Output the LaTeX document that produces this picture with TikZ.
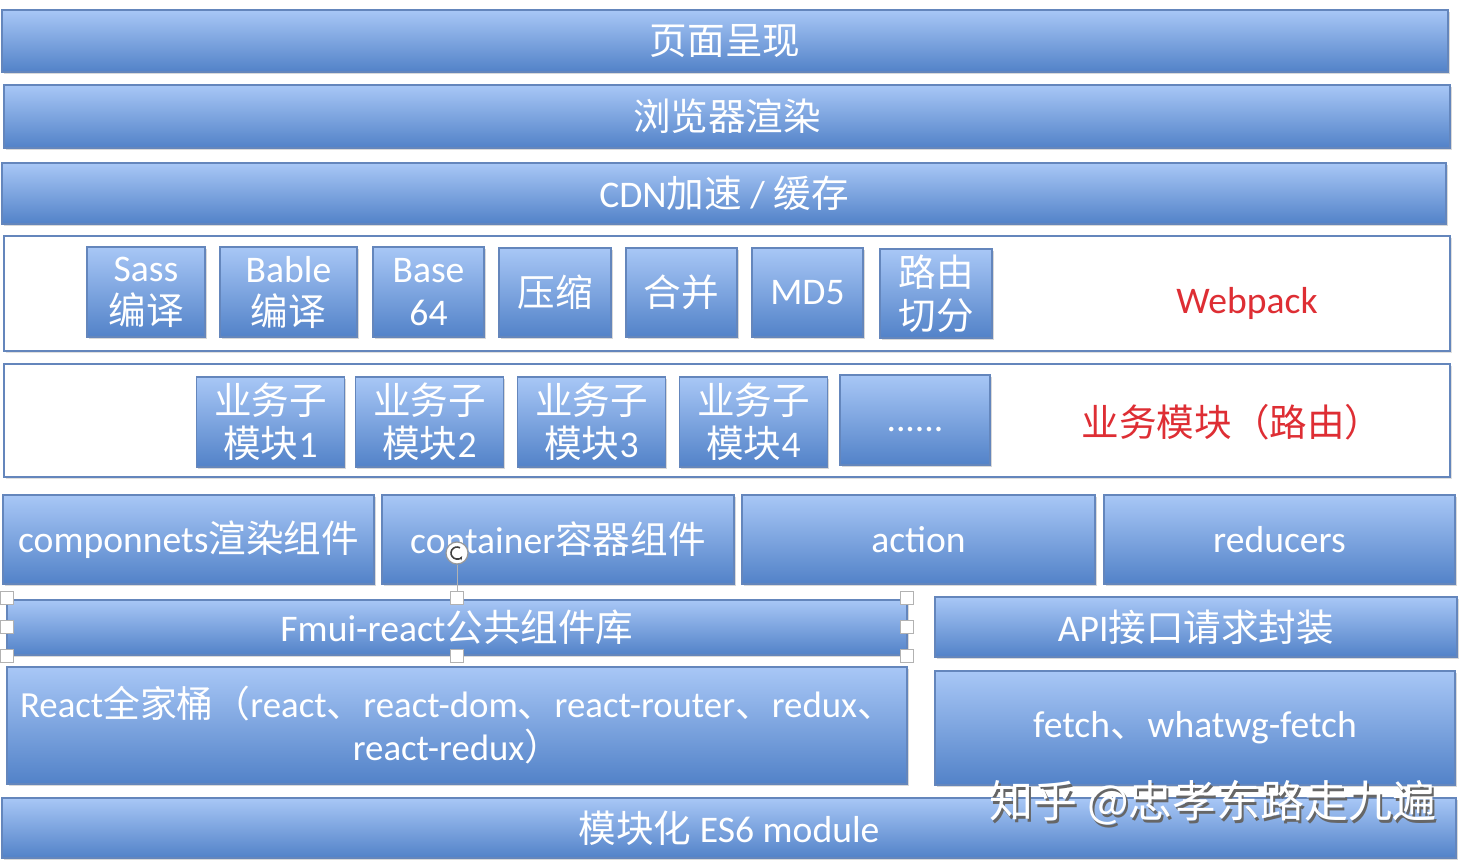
\documentclass[tikz,border=0pt]{standalone}
\usepackage{fontspec}
\setmainfont{Carlito}
\newfontfamily\cjk{Noto Sans CJK SC}
\newcommand{\zh}[1]{{\cjk #1}}
\usetikzlibrary{shadows,arrows.meta}
\definecolor{barTop}{RGB}{168,199,246}
\definecolor{barBot}{RGB}{82,130,200}
\definecolor{barLine}{RGB}{100,134,188}
\definecolor{tagRed}{RGB}{222,46,52}

\begin{document}
\begin{tikzpicture}[
    x=0.5pt, y=-0.5pt,
    box/.style 2 args={minimum width=#1*0.5pt, minimum height=#2*0.5pt},
    bar/.style={draw=barLine, line width=0.6pt, top color=barTop, bottom color=barBot,
        inner sep=0pt, text=white, align=center, font=\fontsize{18.8}{21.5}\selectfont,
        drop shadow={shadow xshift=0.8pt, shadow yshift=-1.2pt, opacity=0.3}},
    frame/.style={draw=barLine, line width=1pt, fill=white, inner sep=0pt,
        drop shadow={shadow xshift=0.8pt, shadow yshift=-1.2pt, opacity=0.25}},
    tag/.style={text=tagRed, font=\fontsize{18.8}{21.5}\selectfont},
    handle/.style={draw=gray!60, fill=white, line width=0.4pt, minimum size=6.5pt, inner sep=0pt}
]
\useasboundingbox (0,0) rectangle (1476,866);

% top layers
\node[bar, box={1446}{62}] (page) at (725,41) {\zh{页面呈现}};
\node[bar, box={1446}{63}] (render) at (727,116.5) {\zh{浏览器渲染}};
\node[bar, box={1444}{61}] (cdn) at (724,193.5) {CDN\zh{加速} / \zh{缓存}};

% webpack layer
\node[frame, box={1446}{115}] (webpack) at (727,293.5) {};
\node[bar, box={118}{90}] (sass) at (146,292) {Sass\\\zh{编译}};
\node[bar, box={137}{90}] (bable) at (288.5,292) {Bable\\\zh{编译}};
\node[bar, box={111}{90}] (base) at (428.5,292) {Base\\64};
\node[bar, box={112}{89}] (zip) at (555,292.5) {\zh{压缩}};
\node[bar, box={111}{89}] (merge) at (681.5,292.5) {\zh{合并}};
\node[bar, box={111}{89}] (md5) at (807.5,292.5) {MD5};
\node[bar, box={112}{89}] (split) at (936,293.5) {\zh{路由}\\\zh{切分}};
\node[tag] (webpacktag) at (1247,303) {Webpack};

% business modules
\node[frame, box={1446}{113}] (biz) at (727,420.5) {};
\foreach \i/\cx in {1/270.5, 2/429.5, 3/591.5, 4/753.5}
    \node[bar, box={148}{90}] (sub\i) at (\cx,422) {\zh{业务子}\\\zh{模块}\i};
\node[bar, box={150}{90}] (more) at (915,420) {\raisebox{-5.5pt}[0pt][0pt]{......}};
\node[tag] (biztag) at (1232,422) {\zh{业务模块（路由）}};

% redux row
\node[bar, box={371}{89}] (comp) at (188.5,539.5) {componnets\zh{渲染组件}};
\node[bar, box={352}{89}] (cont) at (558,539.5) {container\zh{容器组件}};
\node[bar, box={353}{89}] (action) at (918.5,539.5) {action};
\node[bar, box={351}{89}] (reducers) at (1279.5,539.5) {reducers};

% libraries
\node[bar, box={900}{55}] (fmui) at (457,627.5) {Fmui-react\zh{公共组件库}};
\node[bar, box={522}{60}] (api) at (1196,627) {API\zh{接口请求封装}};
\node[bar, box={900}{117}, font=\fontsize{18.4}{21.5}\selectfont] (react) at (457,725.5)
    {React\zh{全家桶（}react\zh{、}react-dom\zh{、}react-router\zh{、}redux\zh{、}\\react-redux\zh{）}};
\node[bar, box={520}{114}] (fetch) at (1195,728) {fetch\zh{、}whatwg-fetch};
\node[bar, box={1454}{60}] (es6) at (729,828) {\zh{模块化} ES6 module};

% selection handles
\foreach \n/\hx/\hy in {tl/7/598, tm/457/598, tr/907/598, ml/7/627, mr/907/627, bl/7/656, bm/457/656, br/907/656}
    \node[handle] (h\n) at (\hx,\hy) {};
\node[circle, draw=gray!80, fill=white, line width=0.6pt, minimum size=11pt, inner sep=0pt] (rot) at (457,553) {};
\draw[gray!60] (rot.south) -- (htm.north);
\draw[gray!50!black, line width=0.8pt, -{Stealth[length=2pt]}] (rot.center) ++(60:3pt) arc (60:330:3pt);

% watermark
\node[text=black!60, font=\cjk\fontsize{22}{25}\selectfont] (markshadow) at (1215,806) {知乎 @忠孝东路走九遍};
\node[text=white, font=\cjk\fontsize{22}{25}\selectfont] (mark) at (1213,803) {知乎 @忠孝东路走九遍};
\end{tikzpicture}
\end{document}
